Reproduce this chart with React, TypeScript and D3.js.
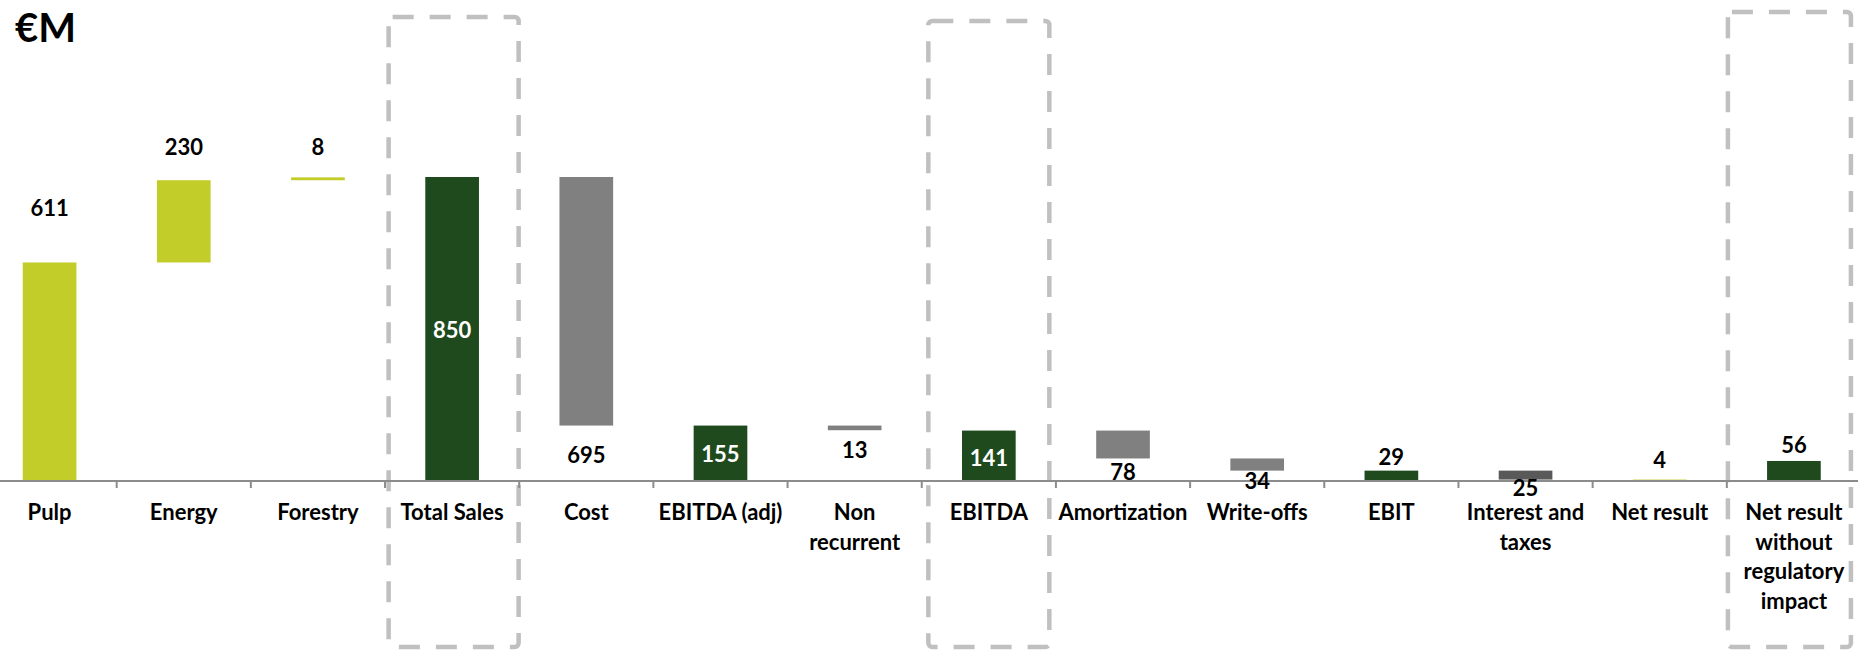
import React from "react";
import * as d3 from "d3";

// ---- data ----
const categories = [
  "Pulp", "Energy", "Forestry", "Total Sales", "Cost", "EBITDA (adj)", "Non recurrent",
  "EBITDA", "Amortization", "Write-offs", "EBIT", "Interest and taxes", "Net result",
  "Net result without regulatory impact",
];
const categoryLines = [
  ["Pulp"], ["Energy"], ["Forestry"], ["Total Sales"], ["Cost"], ["EBITDA (adj)"],
  ["Non", "recurrent"], ["EBITDA"], ["Amortization"], ["Write-offs"], ["EBIT"],
  ["Interest and", "taxes"], ["Net result"], ["Net result", "without", "regulatory", "impact"],
];
const values = [611, 230, 8, 850, -695, 155, -13, 141, -78, -34, 29, -25, 4, 56];
// "step" = floating change from running level, "total" = bar from zero
const kinds = ["step", "step", "step", "total", "step", "total", "step", "total", "step", "step", "total", "step", "total", "total"];
const highlighted = ["Total Sales", "EBITDA", "Net result without regulatory impact"];
const unitLabel = "€M";

// ---- styles ----
const LIME = "#c2cd2a";
const DKGREEN = "#1f4a1e";
const GRAY = "#808080";
const DKGRAY = "#595959";
const barColors = [LIME, LIME, LIME, DKGREEN, GRAY, DKGREEN, GRAY, DKGREEN, GRAY, GRAY, DKGREEN, DKGRAY, LIME, DKGREEN];
// label placement: where, baseline offset (px)
const labelPlace: { pos: string; dy: number }[] = [
  { pos: "above", dy: -46 }, { pos: "above", dy: -25 }, { pos: "above", dy: -22 },
  { pos: "inside", dy: 9 }, { pos: "below", dy: 37 }, { pos: "inside", dy: 9 },
  { pos: "below", dy: 28 }, { pos: "inside", dy: 10 }, { pos: "below", dy: 22 },
  { pos: "below", dy: 18 }, { pos: "above", dy: -6 }, { pos: "below", dy: 16 },
  { pos: "above", dy: -12 }, { pos: "above", dy: -8 },
];
const boxStyles = [
  { w: 130, top: 17, dx: 1.5 },
  { w: 121, top: 21, dx: 0 },
  { w: 123, top: 12, dx: -4.5 },
];

const W = 1858;
const H = 652;
const FONT = "Lato, 'Open Sans', Arial, sans-serif";

export default function App() {
  const x = d3.scaleBand<string>().domain(categories).range([-17.5, 1861]).padding(0);
  const y = d3.scaleLinear().domain([0, 850]).range([481, 177]);
  const bw = x.bandwidth() * 0.4;
  const baseY = y(0);

  // waterfall geometry
  let level = 0;
  const bars = categories.map((c, i) => {
    const v = values[i];
    let a: number, b: number;
    if (kinds[i] === "total") {
      a = 0; b = v; level = v;
    } else {
      a = level; b = level + v; level = b;
    }
    const lo = Math.min(a, b), hi = Math.max(a, b);
    return { c, i, v, lo, hi, cx: (x(c) as number) + x.bandwidth() / 2 };
  });

  return (
    <svg width={W} height={H} style={{ position: "absolute", left: 0, top: 0, display: "block", background: "#fff" }}>
      <text x={15} y={41.5} fontFamily={FONT} fontWeight={700} fontSize={40} fill="#000">{unitLabel}</text>

      {highlighted.map((c, k) => {
        const s = boxStyles[k];
        const cx = (x(c) as number) + x.bandwidth() / 2 + s.dx;
        return (
          <rect key={c} x={cx - s.w / 2} y={s.top} width={s.w} height={647 - s.top} rx={4}
            fill="none" stroke="#c0c0c0" strokeWidth={4.5} strokeDasharray="21 16" />
        );
      })}

      {bars.map((b) => {
        const top = y(b.hi), bot = y(b.lo);
        return (
          <rect key={b.c} x={b.cx - bw / 2} y={top} width={bw} height={Math.max(bot - top, 1.2)} fill={barColors[b.i]} />
        );
      })}

      <line x1={0} x2={W} y1={baseY} y2={baseY} stroke="#8c8c8c" strokeWidth={2} />
      {categories.slice(1).map((c) => (
        <line key={c} x1={x(c) as number} x2={x(c) as number} y1={baseY} y2={baseY + 7} stroke="#8c8c8c" strokeWidth={2} />
      ))}

      {bars.map((b) => {
        const p = labelPlace[b.i];
        const top = y(b.hi), bot = y(b.lo);
        let ty: number;
        if (p.pos === "above") ty = top + p.dy;
        else if (p.pos === "below") ty = bot + p.dy;
        else ty = (top + bot) / 2 + p.dy;
        return (
          <text key={b.c} x={b.cx} y={ty} textAnchor="middle" fontFamily={FONT} fontWeight={700} fontSize={22}
            fill={p.pos === "inside" ? "#fff" : "#000"}>
            {Math.abs(b.v)}
          </text>
        );
      })}

      {bars.map((b) => (
        <text key={b.c} x={b.cx} y={520} textAnchor="middle" fontFamily={FONT} fontWeight={700} fontSize={22} fill="#000">
          {categoryLines[b.i].map((ln, j) => (
            <tspan key={j} x={b.cx} y={520 + j * 29.5}>{ln}</tspan>
          ))}
        </text>
      ))}
    </svg>
  );
}
